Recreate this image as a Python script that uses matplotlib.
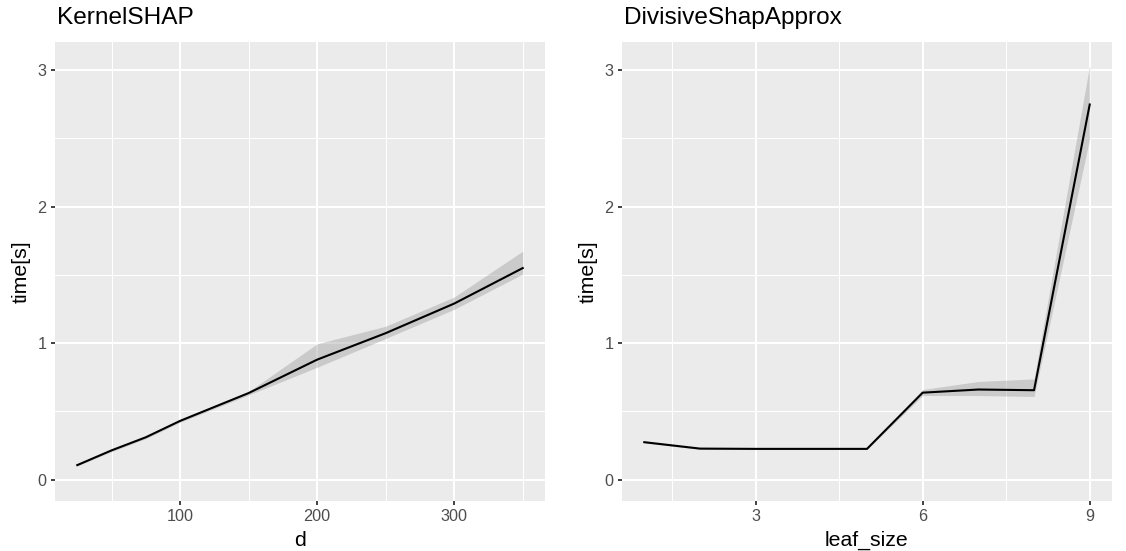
import matplotlib
matplotlib.use("Agg")
import matplotlib.pyplot as plt
from matplotlib.ticker import FixedLocator

plt.rcParams['font.family'] = ['Liberation Sans', 'DejaVu Sans']

# KernelSHAP data
d_vals = [25, 50, 75, 100, 150, 200, 250, 300, 350]
ks_mean = [0.106, 0.214, 0.31, 0.43, 0.634, 0.879, 1.073, 1.29, 1.55]
ks_low = [0.100, 0.205, 0.300, 0.420, 0.620, 0.823, 1.034, 1.248, 1.506]
ks_high = [0.112, 0.222, 0.320, 0.440, 0.645, 0.995, 1.124, 1.338, 1.674]

# DivisiveShapApprox data
leaf_size = [1, 2, 3, 4, 5, 6, 7, 8, 9]
ds_mean = [0.274, 0.227, 0.225, 0.225, 0.225, 0.637, 0.660, 0.655, 2.749]
ds_low = [0.268, 0.222, 0.220, 0.220, 0.220, 0.616, 0.616, 0.609, 2.50]
ds_high = [0.280, 0.232, 0.230, 0.230, 0.230, 0.660, 0.719, 0.738, 3.04]

titles = ["KernelSHAP", "DivisiveShapApprox"]
xlabels = ["d", "leaf_size"]
ylabel = "time[s]"
y_ticks = [0, 1, 2, 3]

W, H = 1126, 551
fig = plt.figure(figsize=(W / 100, H / 100), dpi=100)

top, bottom = 42, 501
panels = [
    dict(left=55, right=545,
         x=d_vals, m=ks_mean, lo=ks_low, hi=ks_high,
         xlim=(8.75, 366.25), xmaj=[100, 200, 300], xmin=[50, 150, 250, 350]),
    dict(left=622, right=1112,
         x=leaf_size, m=ds_mean, lo=ds_low, hi=ds_high,
         xlim=(0.6, 9.4), xmaj=[3, 6, 9], xmin=[1.5, 4.5, 7.5]),
]

for i, p in enumerate(panels):
    rect = [p['left'] / W, (H - bottom) / H, (p['right'] - p['left']) / W, (bottom - top) / H]
    ax = fig.add_axes(rect)
    ax.set_facecolor('#EBEBEB')
    for s in ax.spines.values():
        s.set_visible(False)
    ax.set_xlim(*p['xlim'])
    ax.set_ylim(-0.157, 3.207)
    ax.xaxis.set_major_locator(FixedLocator(p['xmaj']))
    ax.xaxis.set_minor_locator(FixedLocator(p['xmin']))
    ax.yaxis.set_major_locator(FixedLocator(y_ticks))
    ax.yaxis.set_minor_locator(FixedLocator([0.5, 1.5, 2.5]))
    ax.grid(which='major', color='white', linewidth=1.5)
    ax.grid(which='minor', color='white', linewidth=0.75)
    ax.set_axisbelow(True)
    ax.tick_params(which='major', length=3.0, width=1.3, color='#333333',
                   labelcolor='#4D4D4D', labelsize=11.7, pad=3)
    ax.tick_params(which='minor', length=0)
    ax.fill_between(p['x'], p['lo'], p['hi'], color='#999999', alpha=0.4,
                    linewidth=0)
    ax.plot(p['x'], p['m'], color='black', linewidth=1.5)
    ax.set_xlabel(xlabels[i], fontsize=15.3, color='black', labelpad=4.5)
    ax.set_ylabel(ylabel, fontsize=15.3, color='black', labelpad=5)
    fig.text((p['left'] + 1.5) / W, 1 - 24 / H, titles[i], fontsize=17.6,
             color='black', ha='left', va='baseline')

fig.savefig("out.png", dpi=100, facecolor='white')
